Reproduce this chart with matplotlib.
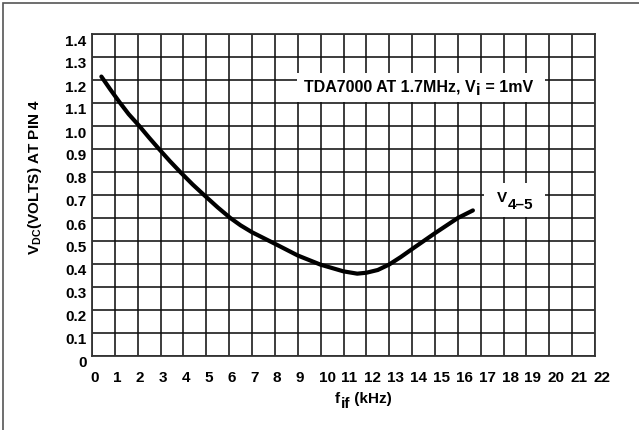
import matplotlib
matplotlib.use('Agg')
import matplotlib.pyplot as plt
import matplotlib.transforms as mtransforms
from matplotlib.patches import Rectangle

plt.rcParams['font.family'] = ['Liberation Sans', 'DejaVu Sans']
plt.rcParams['font.weight'] = 'bold'
plt.rcParams['mathtext.fontset'] = 'custom'
plt.rcParams['mathtext.rm'] = 'Liberation Sans:bold'
plt.rcParams['mathtext.it'] = 'Liberation Sans:bold'
plt.rcParams['mathtext.bf'] = 'Liberation Sans:bold'

# curve (f_if in kHz, V_DC in volts)
f_if = [0.41, 0.8, 1.2, 1.6, 2.07, 2.5, 2.93, 3.4, 3.86, 4.4, 4.9, 5.5,
        6.05, 6.5, 7.0, 8.0, 9.0, 10.0, 11.0, 11.6, 12.0, 12.5, 13.0,
        13.5, 14.0, 15.0, 16.0, 16.66]
v_dc = [1.215, 1.159, 1.104, 1.052, 1.0, 0.949, 0.9, 0.848, 0.8, 0.746,
        0.7, 0.646, 0.6, 0.568, 0.538, 0.488, 0.437, 0.397, 0.368, 0.358,
        0.362, 0.374, 0.398, 0.43, 0.465, 0.534, 0.6, 0.633]

x_ticks = list(range(0, 23))
y_ticks = [i / 10 for i in range(0, 15)]
y_tick_labels = ['0'] + [f'{v:.1f}' for v in y_ticks[1:]]

FS = 11
FS_T = 11.5

fig = plt.figure(figsize=(6.39, 4.31), dpi=100)

# outer frame around the whole figure
fig.patches.append(Rectangle((3 / 639, -0.01), 1.0, 1 - 4 / 431 + 0.01,
                             transform=fig.transFigure, fill=False,
                             ec='#555555', lw=1.2))

ax = fig.add_axes([92 / 639, (431 - 357) / 431, 503 / 639, 322 / 431])
ax.plot(f_if, v_dc, color='black', lw=3.0, solid_capstyle='round',
        solid_joinstyle='round', zorder=3)

ax.set_xlim(0, 22)
ax.set_ylim(0, 1.4)
ax.set_xticks(x_ticks)
ax.set_xticklabels([str(t) for t in x_ticks], ha='left')
ax.set_yticks(y_ticks)
ax.set_yticklabels(y_tick_labels)
ax.grid(True, color='#111111', lw=1.15)
ax.set_axisbelow(True)
for s in ax.spines.values():
    s.set_color('#333333')
    s.set_linewidth(1.3)
ax.tick_params(length=0, labelsize=FS)
ax.tick_params(axis='x', pad=10)
ax.tick_params(axis='y', pad=4)

# nudge tick labels like the original
off_y = mtransforms.ScaledTranslation(0, -5 / 100, fig.dpi_scale_trans)
for lbl in ax.get_yticklabels():
    lbl.set_transform(lbl.get_transform() + off_y)
off_x = mtransforms.ScaledTranslation(-2 / 100, 0, fig.dpi_scale_trans)
for lbl in ax.get_xticklabels():
    lbl.set_transform(lbl.get_transform() + off_x)

ax.set_ylabel(r'V$_{\rm DC}$(VOLTS) AT PIN 4', fontsize=FS, fontweight='bold')
ax.yaxis.set_label_coords(-0.095, 0.56)


def chain(parts, x, y, transform, size, zorder=5):
    """Draw text pieces one after another; each part is (text, dy in pt)."""
    arts = []
    first, dy0 = parts[0]
    t = ax.text(x, y, first, fontsize=size, fontweight='bold', ha='left',
                va='baseline', transform=transform, zorder=zorder)
    arts.append(t)
    prev_dy = dy0
    for txt, dy in parts[1:]:
        t = ax.annotate(txt, xy=(1, 0), xycoords=arts[-1],
                        xytext=(0.3, dy - prev_dy), textcoords='offset points',
                        fontsize=size, fontweight='bold', ha='left',
                        va='bottom', zorder=zorder, annotation_clip=False)
        arts.append(t)
        prev_dy = dy
    return arts


def px_to_data(px, py):
    return 22 * (px - 92) / 503, 1.4 * (357 - py) / 322


# annotation inside the grid
tx, ty = px_to_data(304, 92)
tda = chain([('TDA7000 AT 1.7MHz, V', 0), ('i', -2.0), (' = 1mV', 0)],
            tx, ty, ax.transData, FS_T)
vx, vy = px_to_data(497, 202)
v45 = chain([('V', 0), ('4\u20135', -5.0)], vx, vy, ax.transData, FS)

# x label with lowered subscript
fx, fy = (335 - 92) / 503, (357 - 403) / 322
chain([('f', 0), ('if', -3.5), (' (kHz)', 0)], fx, fy, ax.transAxes, FS)

# white boxes behind the labels (sized from the text extents)
fig.canvas.draw()
r = fig.canvas.get_renderer()
for arts, pad in ((tda, (7, 5, 12, 6)), (v45, (13, 6, 12, 7))):
    bb = mtransforms.Bbox.union([a.get_window_extent(r) for a in arts])
    bb = mtransforms.Bbox.from_extents(bb.x0 - pad[0], bb.y0 - pad[1],
                                       bb.x1 + pad[2], bb.y1 + pad[3])
    bb = bb.transformed(ax.transAxes.inverted())
    ax.add_patch(Rectangle((bb.x0, bb.y0), bb.width, bb.height,
                           transform=ax.transAxes, fc='white', ec='none',
                           zorder=4))

fig.savefig('out.png', dpi=100)
